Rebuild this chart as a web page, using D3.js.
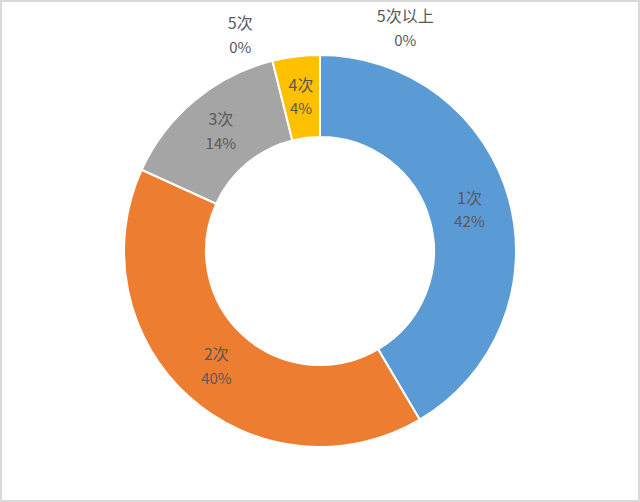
<!DOCTYPE html>
<meta charset="utf-8">
<head>
  <script src="https://d3js.org/d3.v7.min.js"></script>
  <style>
    body { margin: 0; background: #fff; }
    text { font-family: 'Noto Sans CJK SC', 'Noto Sans', sans-serif; }
  </style>
</head>
<body>
<div id="chart"></div>
<script>
  // data
  const categories = ["1次", "2次", "3次", "4次", "5次", "5次以上"];
  const shares = [41.5, 40.3, 14.3, 3.9, 0, 0];
  const colors = ["#5B9BD5", "#ED7D31", "#A5A5A5", "#FFC000", "#4472C4", "#70AD47"];

  const W = 640, H = 502;
  const cx = 320, cy = 251, outerR = 196, innerR = 114;

  const svg = d3.select("#chart").append("svg")
    .attr("width", W).attr("height", H);

  // chart frame
  svg.append("rect")
    .attr("x", 1).attr("y", 1)
    .attr("width", W - 2).attr("height", H - 2)
    .attr("fill", "#fff")
    .attr("stroke", "#d9d9d9")
    .attr("stroke-width", 2);

  const g = svg.append("g").attr("transform", `translate(${cx},${cy})`);

  const slices = d3.zip(categories, shares, colors)
    .map(d => ({ name: d[0], value: d[1], color: d[2] }));

  const pie = d3.pie().sort(null).value(d => d.value);
  const arcs = pie(slices);

  const arc = d3.arc().innerRadius(innerR).outerRadius(outerR);
  const labelArc = d3.arc().innerRadius((innerR + outerR) / 2).outerRadius((innerR + outerR) / 2);

  g.selectAll("path.slice")
    .data(arcs.filter(d => d.value > 0))
    .enter().append("path")
    .attr("class", "slice")
    .attr("d", arc)
    .attr("fill", d => d.data.color)
    .attr("stroke", "#fff")
    .attr("stroke-width", 2)
    .attr("stroke-linejoin", "miter");

  // zero slices get pushed outside the ring, one to each side of the top
  const zeroNudge = { "5次": -20.3, "5次以上": 21 };
  const zeroR = { "5次": 230, "5次以上": 238 };

  function labelPos(d) {
    if (d.value > 0) return labelArc.centroid(d);
    const a = (zeroNudge[d.data.name] || 0) * Math.PI / 180;
    const r = zeroR[d.data.name] || outerR + 30;
    return [r * Math.sin(a), -r * Math.cos(a)];
  }

  const total = d3.sum(shares);
  const labels = g.selectAll("g.label")
    .data(arcs)
    .enter().append("g")
    .attr("class", "label")
    .attr("transform", d => `translate(${labelPos(d)})`);

  labels.append("text")
    .attr("text-anchor", "middle")
    .attr("y", -12)
    .attr("dy", "0.35em")
    .attr("font-size", 16)
    .attr("fill", "#595959")
    .text(d => d.data.name);

  labels.append("text")
    .attr("text-anchor", "middle")
    .attr("y", 12)
    .attr("dy", "0.35em")
    .attr("font-size", 15)
    .attr("fill", "#595959")
    .text(d => Math.round(d.value / total * 100) + "%");
</script>
</body>
